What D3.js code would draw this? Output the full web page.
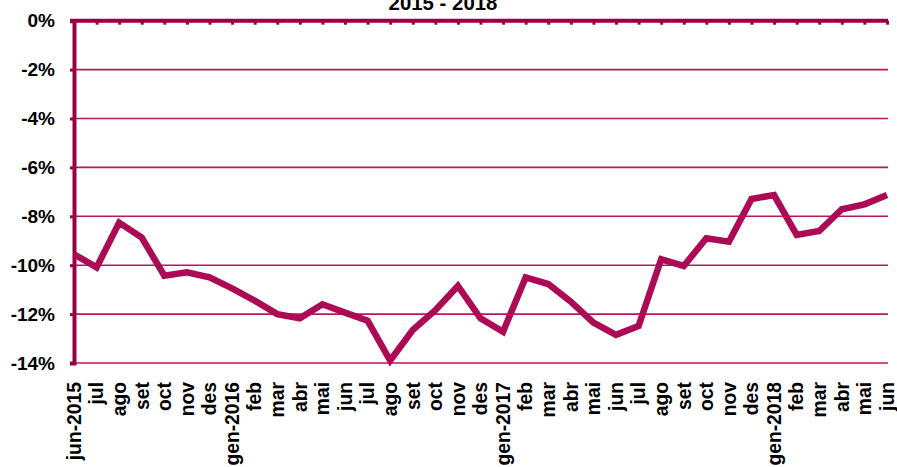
<!DOCTYPE html>
<html><head><meta charset="utf-8">
<script src="https://cdn.jsdelivr.net/npm/d3@7"></script>
<style>
html,body{margin:0;padding:0;background:#fff;}
svg{display:block;font-family:"Liberation Sans",Arial,Helvetica,sans-serif;}
</style></head>
<body>
<svg id="c" width="897" height="467"></svg>
<script>
const categories = ["jun-2015","jul","ago","set","oct","nov","des","gen-2016","feb","mar","abr","mai","jun","jul","ago","set","oct","nov","des","gen-2017","feb","mar","abr","mai","jun","jul","ago","set","oct","nov","des","gen-2018","feb","mar","abr","mai","jun"];
const values = [-9.55,-10.09,-8.26,-8.87,-10.43,-10.29,-10.5,-10.95,-11.45,-12.0,-12.17,-11.6,-11.94,-12.27,-13.9,-12.65,-11.84,-10.85,-12.17,-12.72,-10.5,-10.77,-11.49,-12.35,-12.85,-12.49,-9.76,-10.03,-8.9,-9.04,-7.29,-7.13,-8.76,-8.6,-7.71,-7.51,-7.13];
const yTicks = [0,-2,-4,-6,-8,-10,-12,-14];
const title = "2015 - 2018";

const svg = d3.select("#c");
const mLeft = 74, mRight = 887, mTop = 20.7, mBottom = 363;
const x = d3.scalePoint().domain(d3.range(categories.length)).range([mLeft, mRight]);
const y = d3.scaleLinear().domain([-14, 0]).range([mBottom, mTop]);

const gridC = "#BB1560", axisC = "#990042", lineC = "#AC0A55";

// gridlines
svg.append("g").selectAll("line").data(yTicks.filter(d => d !== 0)).join("line")
  .attr("x1", mLeft).attr("x2", mRight + 1)
  .attr("y1", d => y(d)).attr("y2", d => y(d))
  .attr("stroke", gridC).attr("stroke-width", 1.6);

// y axis
const yAxis = d3.axisLeft(y).tickValues(yTicks).tickSize(4).tickFormat(d => d + "%");
const gy = svg.append("g").attr("transform", `translate(${mLeft},0)`).call(yAxis);
gy.select(".domain").attr("stroke", axisC).attr("stroke-width", 4);
gy.selectAll(".tick line").attr("stroke", axisC).attr("stroke-width", 3);
gy.selectAll(".tick text").attr("x", -19).attr("fill", "#000")
  .attr("font-size", "19px").attr("font-weight", "bold")
  .attr("font-family", "'Liberation Sans',Arial,sans-serif");

// top category axis at 0 with inward ticks
const xTop = d3.axisBottom(x).tickSize(4).tickFormat("").tickSizeOuter(4);
const gx = svg.append("g").attr("transform", `translate(0,${y(0)})`).call(xTop);
gx.select(".domain").attr("stroke", axisC).attr("stroke-width", 4).attr("d", `M${mLeft-4},0H${mRight+1}`);
gx.selectAll(".tick line").attr("stroke", axisC).attr("stroke-width", 3);

// bottom labels
svg.append("g").selectAll("text").data(categories).join("text")
  .attr("transform", (d, i) => `translate(${x(i) + 6.8},382) rotate(-90)`)
  .attr("text-anchor", "end")
  .attr("font-size", "19.3px").attr("font-weight", "bold").attr("fill", "#000")
  .text(d => d);

// line
const line = d3.line().x((d, i) => x(i)).y(d => y(d));
svg.append("path").datum(values).attr("d", line)
  .attr("fill", "none").attr("stroke", lineC).attr("stroke-width", 6.5)
  .attr("stroke-linejoin", "miter").attr("stroke-miterlimit", 3);

// title
svg.append("text").attr("x", 443).attr("y", 9.5).attr("text-anchor", "middle")
  .attr("font-size", "20.4px").attr("font-weight", "bold").attr("fill", "#000")
  .text(title);
</script>
</body></html>
